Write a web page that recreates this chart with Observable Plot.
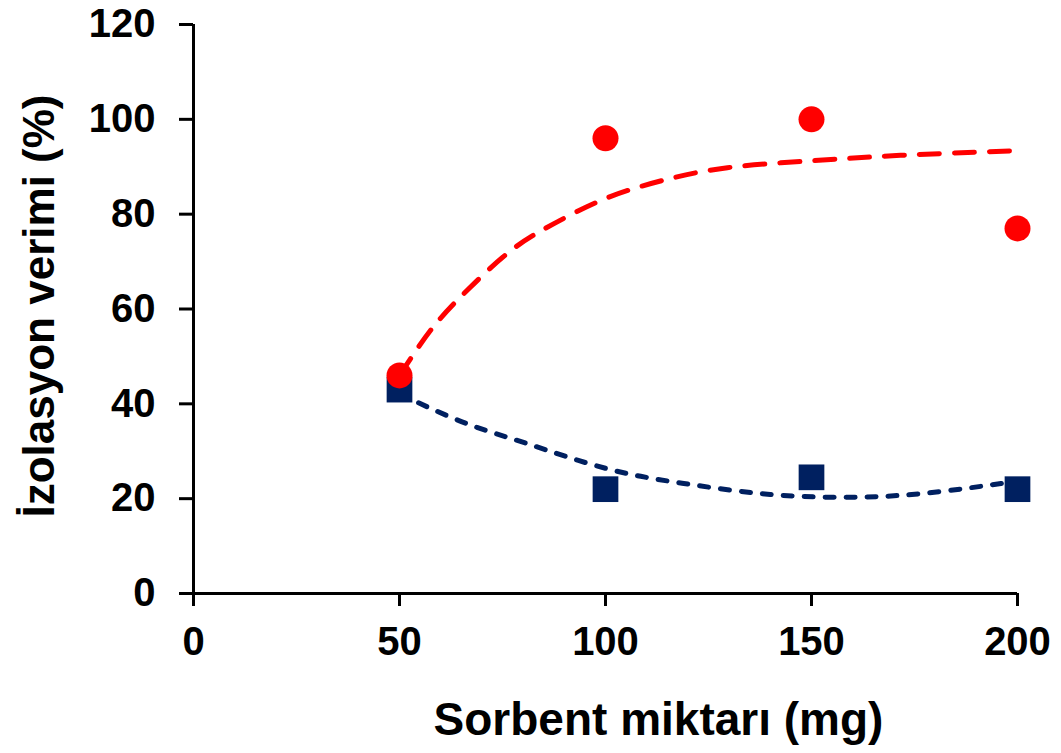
<!DOCTYPE html>
<html>
<head>
<meta charset="utf-8">
<script src="https://cdn.jsdelivr.net/npm/d3@7"></script>
<script src="https://cdn.jsdelivr.net/npm/@observablehq/plot@0.6"></script>
<style>
  html, body { margin: 0; padding: 0; background: #fff; }
  #chart { width: 1061px; height: 753px; }
</style>
</head>
<body>
<div id="chart"></div>
<script>
// Data
const sorbent = [50, 100, 150, 200];
const redValues = [46, 96, 100, 77];
const blueValues = [43, 22, 24.5, 22];

// Trend lines
const redTrendX = [50, 58, 66.5, 77, 87.5, 100, 113.8, 129.6, 150.6, 171.6, 200];
const redTrendY = [46, 56, 64, 72.3, 78, 83.3, 87.1, 89.8, 91.3, 92.4, 93.4];
const blueTrendX = [50, 54.4, 66.4, 81, 100, 119, 140, 159, 177, 196, 200];
const blueTrendY = [42, 40.3, 35.8, 31.6, 26.4, 23.2, 20.9, 20.3, 21.1, 23.2, 23.8];

const xTicks = [0, 50, 100, 150, 200];
const yTicks = [0, 20, 40, 60, 80, 100, 120];
const xTitle = "Sorbent miktarı (mg)";
const yTitle = "İzolasyon verimi (%)";

const red = "#FF0000";
const navy = "#002060";

const redPts = sorbent.map((x, i) => ({x, y: redValues[i]}));
const bluePts = sorbent.map((x, i) => ({x, y: blueValues[i]}));
const redTrend = redTrendX.map((x, i) => ({x, y: redTrendY[i]}));
const blueTrend = blueTrendX.map((x, i) => ({x, y: blueTrendY[i]}));

const chart = Plot.plot({
  width: 1061,
  height: 753,
  marginLeft: 193,
  marginRight: 44,
  marginTop: 24,
  marginBottom: 160,
  style: {fontFamily: "'Liberation Sans', Arial, sans-serif", fontWeight: "bold", color: "#000", background: "#fff", overflow: "visible"},
  x: {domain: [0, 200]},
  y: {domain: [0, 120]},
  marks: [
    Plot.axisX({ticks: xTicks, tickFormat: d => d, tickSize: 13, tickPadding: 20, fontSize: 40, strokeWidth: 3, label: null}),
    Plot.axisY({ticks: yTicks, tickFormat: d => d, tickSize: 14, tickPadding: 24, fontSize: 40, strokeWidth: 3, label: null}),
    Plot.ruleY([0], {strokeWidth: 3}),
    Plot.ruleX([0], {strokeWidth: 3}),
    Plot.line(blueTrend, {x: "x", y: "y", stroke: navy, strokeWidth: 5, strokeDasharray: "9,12", strokeLinecap: "round", curve: "natural"}),
    Plot.dot(bluePts, {x: "x", y: "y", symbol: "square", r: 14.5, fill: navy}),
    Plot.line(redTrend, {x: "x", y: "y", stroke: red, strokeWidth: 5, strokeDasharray: "20,15", curve: "natural"}),
    Plot.dot(redPts, {x: "x", y: "y", symbol: "circle", r: 13, fill: red}),
    Plot.text([xTitle], {frameAnchor: "bottom", textAnchor: "middle", dx: 53, dy: 127, fontSize: 46, lineAnchor: "middle", text: d => d}),
    Plot.text([yTitle], {frameAnchor: "left", textAnchor: "middle", rotate: -90, dx: -154, dy: -3, fontSize: 44, lineAnchor: "middle", text: d => d})
  ]
});
document.getElementById("chart").append(chart);
</script>
</body>
</html>
